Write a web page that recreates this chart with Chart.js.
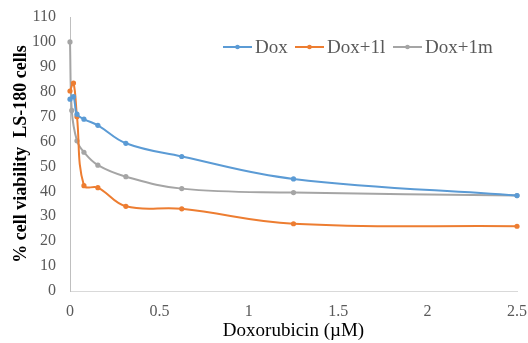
<!DOCTYPE html>
<html>
<head>
<meta charset="utf-8">
<script src="https://cdn.jsdelivr.net/npm/chart.js@4.4.0/dist/chart.umd.min.js"></script>
<style>
html,body{margin:0;padding:0;background:#fff;}
#wrap{width:528px;height:343px;position:relative;}
</style>
</head>
<body>
<div id="wrap"><canvas id="c" width="528" height="343"></canvas></div>
<script>
// Data
const seriesNames = ["Dox", "Dox+1l", "Dox+1m"];
const doses = [0, 0.0195, 0.039, 0.078, 0.156, 0.3125, 0.625, 1.25, 2.5];
const doxValues = [77, 78, 71, 69, 66.5, 59.3, 54, 45, 38.3];
const dox1lValues = [80.3, 83.5, 70, 42.3, 41.5, 34, 33, 27, 26];
const dox1mDoses = [0, 0.0098, 0.039, 0.078, 0.156, 0.3125, 0.625, 1.25, 2.5];
const dox1mValues = [100, 72.5, 60.3, 55.7, 50.5, 45.9, 41.1, 39.5, 38.3];
const xTicks = [0, 0.5, 1, 1.5, 2, 2.5];
const yTicks = [0, 10, 20, 30, 40, 50, 60, 70, 80, 90, 100, 110];
const colors = ["#5B9BD5", "#ED7D31", "#A5A5A5"];

function pts(xs, ys){ return xs.map((x,i)=>({x:x, y:ys[i]})); }

const serif = "'Liberation Serif', 'Times New Roman', serif";

function ds(label, data, color){
  return {
    label: label, data: data,
    borderColor: color, backgroundColor: color,
    borderWidth: 2, pointRadius: 2.6, pointHoverRadius: 2.6,
    pointBorderWidth: 0, tension: 0.4, clip: 5, fill: false
  };
}

const legendStarts = [223, 295, 393];
const legendPlugin = {
  id: 'customLegend',
  afterDraw(chart){
    const ctx = chart.ctx;
    ctx.save();
    ctx.font = "19px " + serif;
    ctx.textBaseline = 'middle';
    const y = 47;
    chart.data.datasets.forEach((d, i) => {
      const x = legendStarts[i];
      ctx.strokeStyle = d.borderColor;
      ctx.lineWidth = 2;
      ctx.beginPath(); ctx.moveTo(x, y); ctx.lineTo(x + 29, y); ctx.stroke();
      ctx.fillStyle = d.borderColor;
      ctx.beginPath(); ctx.arc(x + 14.5, y, 2.3, 0, Math.PI * 2); ctx.fill();
      ctx.fillStyle = '#595959';
      ctx.fillText(d.label, x + 32, y + 1);
    });
    ctx.restore();
  }
};

new Chart(document.getElementById('c'), {
  type: 'line',
  data: {
    datasets: [
      ds(seriesNames[0], pts(doses, doxValues), colors[0]),
      ds(seriesNames[1], pts(doses, dox1lValues), colors[1]),
      ds(seriesNames[2], pts(dox1mDoses, dox1mValues), colors[2])
    ]
  },
  options: {
    responsive: false,
    animation: false,
    layout: { padding: { left: 0, right: 11, top: 17, bottom: 0 } },
    plugins: { legend: { display: false }, tooltip: { enabled: false } },
    scales: {
      x: {
        type: 'linear', min: 0, max: 2.5,
        afterBuildTicks: s => { s.ticks = xTicks.map(v => ({value: v})); },
        afterFit: s => { s.height = 52; s.paddingRight = 0; s.paddingLeft = 0; },
        grid: { display: false, drawTicks: false },
        border: { display: true, color: '#D9D9D9', width: 1 },
        ticks: { color: '#595959', font: { family: serif, size: 16 }, padding: 11, maxRotation: 0,
                 callback: v => String(v) },
        title: { display: true, text: 'Doxorubicin (µM)', color: '#000', font: { family: serif, size: 19 }, padding: { top: 0, bottom: 1 } }
      },
      y: {
        type: 'linear', min: 0, max: 110,
        afterBuildTicks: s => { s.ticks = yTicks.map(v => ({value: v})); },
        afterFit: s => { s.width = 70; s.paddingTop = 0; s.paddingBottom = 0; },
        grid: { display: false, drawTicks: false },
        border: { display: true, color: '#BFBFBF', width: 1 },
        ticks: { color: '#595959', font: { family: serif, size: 16 }, padding: 14, callback: v => String(v) },
        title: { display: true, text: '% cell viability  LS-180 cells', color: '#000', font: { family: serif, size: 18, weight: 'bold' }, padding: { top: 11, bottom: 0 } }
      }
    }
  },
  plugins: [legendPlugin]
});
</script>
</body>
</html>
